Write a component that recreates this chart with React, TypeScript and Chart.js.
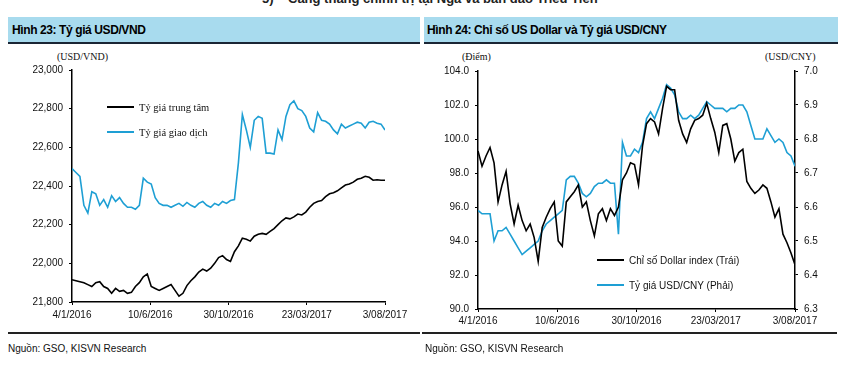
import React, { useEffect, useRef } from "react";
import Chart from "chart.js/auto";

// ---------- DATA ----------
const xTickLabels = ["4/1/2016", "10/6/2016", "30/10/2016", "23/03/2017", "3/08/2017"];

// Hình 23 – USD/VND
const vndCentral = [
  21915, 21910, 21905, 21900, 21890, 21880, 21900, 21905, 21880, 21870,
  21845, 21870, 21855, 21860, 21845, 21850, 21880, 21900, 21930, 21945,
  21880, 21870, 21860, 21870, 21880, 21890, 21860, 21830, 21845, 21885,
  21910, 21930, 21955, 21970, 21960, 21975, 22000, 22030, 22040, 22020,
  22010, 22060, 22090, 22130, 22125, 22115, 22140, 22150, 22155, 22150,
  22165, 22180, 22200, 22220, 22235, 22230, 22240, 22255, 22250, 22265,
  22290, 22310, 22320, 22325, 22345, 22360, 22365, 22375, 22390, 22405,
  22410, 22420, 22435, 22440, 22450, 22445, 22430, 22432, 22430, 22430,
];
const vndTrading = [
  22490, 22470, 22450, 22300, 22260, 22370, 22360, 22300, 22330, 22290,
  22350, 22320, 22340, 22310, 22290, 22290, 22280, 22300, 22440, 22420,
  22410, 22340, 22310, 22300, 22300, 22290, 22300, 22310, 22295, 22315,
  22300, 22290, 22310, 22320, 22300, 22290, 22310, 22300, 22320, 22310,
  22325, 22330, 22520, 22770, 22690, 22600, 22740, 22760, 22750, 22570,
  22570, 22565, 22690, 22640, 22760, 22820, 22840, 22800, 22790, 22760,
  22700, 22680, 22780, 22740, 22735, 22720, 22690, 22670, 22720, 22700,
  22710, 22720, 22730, 22725, 22700, 22730, 22735, 22725, 22720, 22690,
];

// Hình 24 – Dollar index & USD/CNY
const dollarIndex = [
  99.3, 98.4, 99.0, 99.5, 98.6, 96.3, 97.3, 98.1, 96.2, 95.0,
  96.1, 95.2, 94.6, 95.0, 94.2, 92.8, 94.8, 95.4, 95.9, 96.3,
  94.0, 93.7, 96.3, 96.6, 96.9, 97.3, 96.0, 96.3, 95.2, 94.3,
  95.6, 95.9, 95.2, 95.9, 95.5, 96.0, 97.6, 98.0, 98.6, 98.5,
  97.3, 99.6, 100.9, 101.2, 101.0, 100.3, 101.8, 103.1, 102.9, 102.9,
  101.1, 100.3, 99.8, 100.6, 101.1, 101.2, 101.4, 102.1, 101.2, 100.4,
  99.2, 100.8, 100.9, 100.0, 98.7, 99.2, 99.4, 97.5, 97.1, 96.8,
  97.0, 97.3, 97.1, 96.3, 95.4, 95.9, 94.4, 93.9, 93.3, 92.6,
];
const usdCny = [
  6.59, 6.58, 6.58, 6.58, 6.50, 6.53, 6.53, 6.54, 6.52, 6.50,
  6.48, 6.46, 6.47, 6.48, 6.49, 6.50, 6.53, 6.55, 6.56, 6.57,
  6.58, 6.59, 6.68, 6.69, 6.69, 6.67, 6.64, 6.63, 6.64, 6.66,
  6.67, 6.67, 6.68, 6.67, 6.67, 6.52, 6.79, 6.75, 6.75, 6.77,
  6.76, 6.79, 6.86, 6.88, 6.86, 6.89, 6.92, 6.96, 6.95, 6.93,
  6.88, 6.86, 6.86, 6.87, 6.86, 6.87, 6.89, 6.91, 6.90, 6.89,
  6.89, 6.89, 6.88, 6.89, 6.89, 6.90, 6.90, 6.88, 6.84, 6.80,
  6.80, 6.80, 6.83, 6.81, 6.79, 6.80, 6.79, 6.76, 6.75, 6.72,
];

// ---------- STYLE ----------
const SANS = "'Liberation Sans', Arial, sans-serif";
const SERIF = "'Liberation Serif', 'Times New Roman', serif";
const BLUE = "#1e9fd4";
const BAR = "#a8dbee";

const toXY = (arr: number[]) => arr.map((v, i) => ({ x: i, y: v }));
const tickPositions = (n: number) =>
  xTickLabels.map((_, k) => (k * (n - 1)) / (xTickLabels.length - 1));

function xScale(n: number, height: number, pad: number) {
  return {
    type: "linear" as const,
    min: 0,
    max: n - 1,
    afterBuildTicks: (s: any) => {
      s.ticks = tickPositions(n).map((v) => ({ value: v }));
    },
    afterFit: (s: any) => {
      s.height = height;
    },
    ticks: {
      autoSkip: false,
      maxRotation: 0,
      padding: pad,
      color: "#111",
      font: { family: SANS, size: 10 },
      callback: (_v: any, i: number) => xTickLabels[i],
    },
    grid: { display: true, drawOnChartArea: false, drawTicks: true, tickLength: 3, color: "#000" },
    border: { color: "#000", width: 1.5 },
  };
}

function yScale(opts: any) {
  const { min, max, step, width, position, fmt } = opts;
  return {
    type: "linear" as const,
    position,
    min,
    max,
    afterFit: (s: any) => {
      s.width = width;
    },
    ticks: {
      stepSize: step,
      padding: 6,
      color: "#111",
      font: { family: SANS, size: 10 },
      callback: fmt,
    },
    grid: { display: true, drawOnChartArea: false, drawTicks: true, tickLength: 3, color: "#000" },
    border: { color: "#000", width: 1.5 },
  };
}

function ChartCanvas({ makeConfig, width, height }: any) {
  const ref = useRef<HTMLCanvasElement | null>(null);
  useEffect(() => {
    if (!ref.current) return;
    const chart = new Chart(ref.current, makeConfig());
    return () => chart.destroy();
  }, []);
  return <canvas ref={ref} width={width} height={height} style={{ width, height, display: "block" }} />;
}

const LW = 1.6;

const leftConfig = () => ({
  type: "line" as const,
  data: {
    datasets: [
      { label: "Tỷ giá trung tâm", data: toXY(vndCentral), borderColor: "#000", borderWidth: LW, pointRadius: 0, tension: 0 },
      { label: "Tỷ giá giao dịch", data: toXY(vndTrading), borderColor: BLUE, borderWidth: LW, pointRadius: 0, tension: 0 },
    ],
  },
  options: {
    responsive: false,
    animation: false as const,
    layout: { padding: { left: 0, right: 37, top: 20, bottom: 0 } },
    plugins: { legend: { display: false }, tooltip: { enabled: false } },
    scales: {
      x: xScale(vndCentral.length, 28, 4),
      y: yScale({
        min: 21800, max: 23000, step: 200, width: 72, position: "left",
        fmt: (v: number) => v.toLocaleString("en-US"),
      }),
    },
  },
});

const rightConfig = () => ({
  type: "line" as const,
  data: {
    datasets: [
      { label: "Chỉ số Dollar index (Trái)", data: toXY(dollarIndex), borderColor: "#000", borderWidth: LW, pointRadius: 0, tension: 0, yAxisID: "y", order: 0 },
      { label: "Tỷ giá USD/CNY (Phải)", data: toXY(usdCny), borderColor: BLUE, borderWidth: LW, pointRadius: 0, tension: 0, yAxisID: "y1", order: 1 },
    ],
  },
  options: {
    responsive: false,
    animation: false as const,
    layout: { padding: { left: 0, right: 0, top: 21, bottom: 0 } },
    plugins: { legend: { display: false }, tooltip: { enabled: false } },
    scales: {
      x: xScale(dollarIndex.length, 31, 3),
      y: yScale({ min: 90, max: 104, step: 2, width: 56, position: "left", fmt: (v: number) => v.toFixed(1) }),
      y1: yScale({ min: 6.3, max: 7.0, step: 0.1, width: 49, position: "right", fmt: (v: number) => v.toFixed(1) }),
    },
  },
});

const abs = (s: any): React.CSSProperties => ({ position: "absolute", ...s });

function LegendRow({ x, y, color, text, font }: any) {
  return (
    <div style={abs({ left: x, top: y - 7, height: 14, display: "flex", alignItems: "center", whiteSpace: "nowrap" })}>
      <div style={{ width: 27, height: 2, background: color, marginRight: 5 }} />
      <span style={{ font, color: "#111" }}>{text}</span>
    </div>
  );
}

export default function App() {
  return (
    <div style={abs({ left: 0, top: 0, width: 844, height: 367, background: "#fff", overflow: "hidden", fontFamily: SANS })}>
      <div style={abs({ left: 262, top: -9, whiteSpace: "nowrap", font: `bold 13px ${SANS}`, color: "#222" })}>
        5)&nbsp;&nbsp;&nbsp;&nbsp;Căng thẳng chính trị tại Nga và bán đảo Triều Tiên
      </div>

      {/* headers */}
      <div style={abs({ left: 8, top: 17, width: 412, height: 25, background: BAR, borderBottom: "2px solid #1b2635" })}>
        <span style={{ position: "absolute", left: 4, top: 6, font: `bold 12px ${SANS}`, letterSpacing: -0.4, color: "#000" }}>
          Hình 23: Tỷ giá USD/VND
        </span>
      </div>
      <div style={abs({ left: 424, top: 17, width: 414, height: 25, background: BAR, borderBottom: "2px solid #1b2635" })}>
        <span style={{ position: "absolute", left: 3, top: 6, font: `bold 12px ${SANS}`, letterSpacing: -0.4, color: "#000" }}>
          Hình 24: Chỉ số US Dollar và Tỷ giá USD/CNY
        </span>
      </div>

      {/* unit labels */}
      <div style={abs({ left: 57, top: 51, font: `10px ${SERIF}`, color: "#111" })}>(USD/VND)</div>
      <div style={abs({ left: 462, top: 51, font: `10px ${SERIF}`, color: "#111" })}>(Điểm)</div>
      <div style={abs({ left: 765, top: 51, font: `10px ${SERIF}`, color: "#111" })}>(USD/CNY)</div>

      {/* charts */}
      <div style={abs({ left: 0, top: 50 })}>
        <ChartCanvas makeConfig={leftConfig} width={422} height={280} />
      </div>
      <div style={abs({ left: 422, top: 50 })}>
        <ChartCanvas makeConfig={rightConfig} width={422} height={290} />
      </div>

      {/* legends */}
      <LegendRow x={107} y={107} color="#000" text="Tỷ giá trung tâm" font={`10.5px ${SERIF}`} />
      <LegendRow x={107} y={132} color={BLUE} text="Tỷ giá giao dịch" font={`10.5px ${SERIF}`} />
      <LegendRow x={597} y={260} color="#000" text="Chỉ số Dollar index (Trái)" font={`10px ${SANS}`} />
      <LegendRow x={597} y={285} color={BLUE} text="Tỷ giá USD/CNY (Phải)" font={`10px ${SANS}`} />

      {/* bottom rules & sources */}
      <div style={abs({ left: 8, top: 332, width: 412, height: 2, background: "#222" })} />
      <div style={abs({ left: 422, top: 332, width: 415, height: 2, background: "#222" })} />
      <div style={abs({ left: 8, top: 343, font: `10px ${SANS}`, color: "#111" })}>Nguồn: GSO, KISVN Research</div>
      <div style={abs({ left: 425, top: 343, font: `10px ${SANS}`, color: "#111" })}>Nguồn: GSO, KISVN Research</div>
    </div>
  );
}
